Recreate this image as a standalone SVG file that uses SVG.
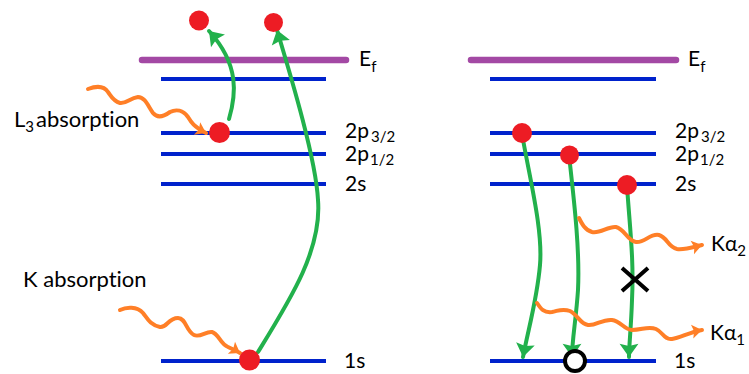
<svg xmlns="http://www.w3.org/2000/svg" width="749" height="374" viewBox="0 0 749 374">
<style>
.ef{stroke:#A349A4;stroke-width:6.5;stroke-linecap:round;fill:none}
.lv{stroke:#0022CC;stroke-width:4;fill:none}
.gr{stroke:#22B14C;stroke-width:4;fill:none;stroke-linecap:round}
.or{stroke:#FF7F27;stroke-width:4;fill:none;stroke-linecap:round;stroke-linejoin:round}
.dot{fill:#ED1C24}
text{font-family:Lato,"Open Sans","Liberation Sans",sans-serif;fill:#000;font-variant-ligatures:none}
.lab{font-size:22px}
.lvl{font-size:21px}
.sub{font-size:15px}
</style>
<defs>
<marker id="ga" markerUnits="userSpaceOnUse" markerWidth="20" markerHeight="20" viewBox="-12 -9 14 18" refX="0" refY="0" orient="auto">
<path d="M0,0 L-12,-8.5 L-10,0 L-12,8.5 Z" fill="#22B14C"/>
</marker>
<marker id="oa" markerUnits="userSpaceOnUse" markerWidth="16" markerHeight="16" viewBox="-11 -8 13 16" refX="0" refY="0" orient="auto">
<path d="M0,0 L-10,-7 L-8,0 L-10,7 Z" fill="#FF7F27"/>
</marker>
</defs>

<g id="levels-left">
<line class="ef" x1="142" y1="60" x2="346" y2="60"/>
<line class="lv" x1="161" y1="79" x2="326" y2="79"/>
<line class="lv" x1="161" y1="133" x2="326" y2="133"/>
<line class="lv" x1="161" y1="154" x2="326" y2="154"/>
<line class="lv" x1="161" y1="184" x2="326" y2="184"/>
<line class="lv" x1="161" y1="361" x2="326" y2="361"/>
</g>
<g id="levels-right">
<line class="ef" x1="471" y1="60" x2="676" y2="60"/>
<line class="lv" x1="490" y1="79" x2="656" y2="79"/>
<line class="lv" x1="490" y1="133" x2="656" y2="133"/>
<line class="lv" x1="490" y1="154" x2="656" y2="154"/>
<line class="lv" x1="490" y1="184" x2="656" y2="184"/>
<line class="lv" x1="490" y1="361" x2="656" y2="361"/>
</g>

<g id="labels-left">
<text class="lvl" x="359" y="66">E<tspan class="sub" dy="6">f</tspan></text>
<text class="lvl" x="345" y="138">2p<tspan class="sub" dx="2" dy="4">3/2</tspan></text>
<text class="lvl" x="345" y="161">2p<tspan class="sub" dx="1" dy="4">1/2</tspan></text>
<text class="lvl" x="345" y="191">2s</text>
<text class="lvl" x="344" y="368">1s</text>
<text class="lab" x="14" y="127">L<tspan class="sub" dy="5">3</tspan><tspan dx="2" dy="-5">absorption</tspan></text>
<text class="lab" x="23" y="287">K absorption</text>
</g>
<g id="labels-right">
<text class="lvl" x="688" y="66">E<tspan class="sub" dy="6">f</tspan></text>
<text class="lvl" x="675" y="138">2p<tspan class="sub" dx="2" dy="4">3/2</tspan></text>
<text class="lvl" x="675" y="161">2p<tspan class="sub" dx="1" dy="4">1/2</tspan></text>
<text class="lvl" x="675" y="191">2s</text>
<text class="lvl" x="674" y="368">1s</text>
<text class="lvl" x="711" y="251">Kα<tspan class="sub" dy="5">2</tspan></text>
<text class="lvl" x="710" y="340">Kα<tspan class="sub" dy="5">1</tspan></text>
</g>

<g id="connectors">
<path class="gr" d="M229,119 C236,95 240,65 209,31" marker-end="url(#ga)"/>
<path class="gr" d="M258,352 C290,300 322,250 318,200 C316,160 292,80 277,30" marker-end="url(#ga)"/>
<path class="gr" d="M522,134 C530,180 543,230 540,265 C537,300 528,330 523,357" marker-end="url(#ga)"/>
<path class="gr" d="M569,155 C574,200 580,250 578,290 C576,320 572,340 572,357" marker-end="url(#ga)"/>
<path class="gr" d="M627,186 C630,230 634,260 632,300 C631,330 629,345 629,357" marker-end="url(#ga)"/>

<path class="or" d="M88,89 C96,86 104,86 108,92 C111,96 113,101 120,103 C126,104 130,98 138,97 C145,97 148,106 153,113 C157,118 163,117 170,112 C176,109 183,110 188,117 C191,122 194,127 206,133" marker-end="url(#oa)"/>
<path class="or" d="M120,310 C126,307 137,306 143,313 C147,318 150,325 160,327 C167,328 168,318 178,318 C186,318 186,331 194,335 C200,338 206,331 212,332 C219,334 220,344 228,347 C232,349 235,350 240,353" marker-end="url(#oa)"/>
<path class="or" d="M579,218 C582,224 585,230 592,232 C600,234 608,226 616,227 C625,229 627,241 636,242 C645,243 650,233 659,235 C667,237 668,247 677,249 C684,250 690,248 702,245" marker-end="url(#oa)"/>
<path class="or" d="M537,303 C541,309 544,313 552,312 C558,311 562,308 570,311 C578,315 580,324 588,325 C596,326 602,319 612,320 C621,321 624,330 632,330 C642,330 648,326 656,329 C663,332 664,340 672,339 C680,338 690,332 702,330" marker-end="url(#oa)"/>
</g>

<g id="electrons">
<circle class="dot" cx="199" cy="20.5" r="10"/>
<circle class="dot" cx="273.5" cy="22.5" r="9.5"/>
<circle class="dot" cx="219.5" cy="132.5" r="10.5"/>
<circle class="dot" cx="249.5" cy="360" r="10.5"/>
<circle class="dot" cx="522" cy="133" r="10"/>
<circle class="dot" cx="569.5" cy="155" r="9.5"/>
<circle class="dot" cx="627" cy="185" r="10"/>
</g>
<g id="hole">
<circle cx="575" cy="361" r="10" fill="#fff" stroke="#000" stroke-width="4"/>
</g>
<g id="forbidden">
<path d="M622,268 L648,291 M648,268 L622,291" stroke="#000" stroke-width="4" fill="none"/>
</g>
</svg>
